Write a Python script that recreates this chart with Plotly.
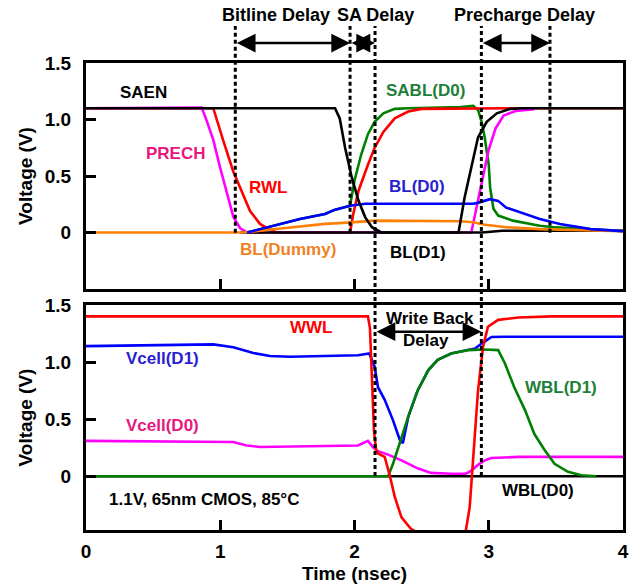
import plotly.graph_objects as go

# ---------------- data ----------------
# top panel: read cycle
saen_t = [0, 1.855, 1.89, 1.93, 1.98, 2.03, 2.08, 2.13, 2.2, 2.775, 2.82, 2.875, 2.92, 2.985, 3.06, 3.16, 3.25, 4.0]
saen_v = [1.1, 1.1, 1.01, 0.75, 0.485, 0.28, 0.134, 0.047, 0.0, 0.0, 0.31, 0.60, 0.84, 0.98, 1.055, 1.094, 1.1, 1.1]

prech_t = [0, 0.862, 0.899, 0.948, 0.998, 1.048, 1.097, 1.147, 1.2, 2.87, 2.905, 2.946, 2.997, 3.05, 3.11, 3.2, 3.34]
prech_v = [1.1, 1.105, 0.99, 0.82, 0.58, 0.345, 0.14, 0.04, 0.0, 0.0, 0.19, 0.44, 0.72, 0.92, 1.035, 1.075, 1.09]

rwl_t = [0, 0.948, 1.023, 1.097, 1.147, 1.222, 1.296, 1.346, 1.42, 1.967, 1.99, 2.03, 2.1, 2.15, 2.215, 2.3, 2.4, 2.5, 3.24, 4.0]
rwl_v = [1.1, 1.1, 0.81, 0.54, 0.40, 0.19, 0.076, 0.04, 0.0, 0.0, 0.16, 0.37, 0.60, 0.75, 0.89, 1.01, 1.07, 1.094, 1.1, 1.1]

bld1_t = [1.15, 2.95, 3.1, 4.0]
bld1_v = [0.0, 0.0, 0.015, 0.015]

bldum_t = [0, 1.17, 1.45, 1.78, 1.98, 2.15, 2.79, 2.885, 2.96, 3.13, 3.38, 3.53, 4.0]
bldum_v = [0, 0, 0.035, 0.076, 0.09, 0.105, 0.1, 0.09, 0.07, 0.047, 0.03, 0.026, 0.012]

bld0_t = [1.2, 1.346, 1.594, 1.78, 1.85, 1.967, 2.08, 2.88, 2.91, 3.01, 3.07, 3.13, 3.23, 3.38, 3.53, 3.76, 4.0]
bld0_v = [0.0, 0.047, 0.12, 0.164, 0.2, 0.237, 0.255, 0.255, 0.26, 0.295, 0.28, 0.22, 0.18, 0.12, 0.076, 0.03, 0.012]

sabl_t = [1.2, 1.346, 1.594, 1.78, 1.85, 1.967, 2.0, 2.05, 2.1, 2.15, 2.215, 2.3, 2.4, 2.79, 2.885, 2.92,
          2.947, 2.97, 3.0, 3.01, 3.035, 3.07, 3.18, 3.38, 3.5, 4.0]
sabl_v = [0.0, 0.047, 0.12, 0.164, 0.2, 0.237, 0.46, 0.69, 0.87, 0.98, 1.055, 1.094, 1.1, 1.11, 1.12, 1.085,
          0.98, 0.84, 0.60, 0.40, 0.21, 0.15, 0.105, 0.06, 0.045, 0.012]

# bottom panel: write-back
wwl_t = [0, 2.1, 2.115, 2.13, 2.145, 2.16, 2.175, 2.225, 2.26, 2.3, 2.35, 2.42, 2.48, 2.8, 2.83, 2.858, 2.883,
         2.92, 2.957, 2.994, 3.07, 3.22, 3.47, 4.0]
wwl_v = [1.40, 1.40, 1.30, 0.90, 0.40, 0.24, 0.20, 0.17, 0.02, -0.18, -0.36, -0.46, -0.5, -0.5, -0.47, -0.27, 0.17,
         0.75, 1.13, 1.31, 1.37, 1.39, 1.40, 1.40]

vc1_t = [0, 0.948, 1.097, 1.246, 1.37, 1.52, 2.026, 2.11, 2.15, 2.175, 2.225, 2.287, 2.337, 2.36, 2.4, 2.47,
         2.55, 2.62, 2.72, 2.845, 2.9, 2.945, 3.02, 3.12, 4.0]
vc1_v = [1.14, 1.155, 1.13, 1.08, 1.053, 1.047, 1.06, 1.075, 0.96, 0.78, 0.67, 0.49, 0.32, 0.29, 0.52, 0.75,
         0.93, 1.02, 1.075, 1.105, 1.12, 1.16, 1.22, 1.222, 1.222]

vc0_t = [0, 1.097, 1.197, 1.296, 2.026, 2.1, 2.137, 2.175, 2.25, 2.35, 2.47, 2.57, 2.72, 2.83, 2.87, 2.92, 2.97,
         3.02, 3.22, 4.0]
vc0_v = [0.31, 0.30, 0.27, 0.257, 0.27, 0.31, 0.257, 0.22, 0.19, 0.14, 0.07, 0.03, 0.023, 0.023, 0.05, 0.10, 0.14,
         0.16, 0.17, 0.17]

wbl1_t = [0, 2.25, 2.287, 2.337, 2.4, 2.47, 2.55, 2.62, 2.72, 2.845, 2.97, 3.07, 3.12, 3.19, 3.27, 3.34, 3.416,
          3.49, 3.59, 3.69, 3.8]
wbl1_v = [0, 0, 0.11, 0.30, 0.52, 0.75, 0.93, 1.02, 1.075, 1.105, 1.11, 1.105, 0.99, 0.78, 0.58, 0.37, 0.23,
          0.11, 0.04, 0.01, 0]

wbl0_t = [0, 4.0]
wbl0_v = [0, 0]

# delay markers (nsec)
delay_t = [1.112, 1.967, 2.153, 2.945, 3.456]

x_ticks = [0, 1, 2, 3, 4]
y_ticks = [0, 0.5, 1.0, 1.5]
y_ticktext = ["0", "0.5", "1.0", "1.5"]

# ---------------- styling ----------------
FONT = "Liberation Sans, Arial, Helvetica, sans-serif"
RED = "#ff0000"
BLUE = "#0000ff"
GREEN = "#008000"
MAG = "#ff00ff"
ORANGE = "#ff8000"
BLACK = "#000000"
LW = 2.6

fig = go.Figure()


def add(t, v, color, name, top=True):
    fig.add_trace(go.Scatter(
        x=t, y=v, mode="lines", name=name,
        line=dict(color=color, width=LW),
        xaxis="x" if top else "x2", yaxis="y" if top else "y2",
        showlegend=False, hoverinfo="skip"))


# top panel (draw order)
add(sabl_t, sabl_v, GREEN, "SABL(D0)")
add(rwl_t, rwl_v, RED, "RWL")
add(prech_t, prech_v, MAG, "PRECH")
add(bld1_t, bld1_v, BLACK, "BL(D1)")
add(bldum_t, bldum_v, ORANGE, "BL(Dummy)")
add(bld0_t, bld0_v, BLUE, "BL(D0)")
add(saen_t, saen_v, BLACK, "SAEN")

# bottom panel
add(wbl0_t, wbl0_v, BLACK, "WBL(D0)", top=False)
add(vc1_t, vc1_v, BLUE, "Vcell(D1)", top=False)
add(vc0_t, vc0_v, MAG, "Vcell(D0)", top=False)
add(wbl1_t, wbl1_v, GREEN, "WBL(D1)", top=False)
add(wwl_t, wwl_v, RED, "WWL", top=False)

axis_common = dict(showline=True, mirror=True, linewidth=3, linecolor="black",
                   ticks="inside", ticklen=10, tickwidth=3, tickcolor="black",
                   showgrid=False, zeroline=False,
                   tickfont=dict(family=FONT, size=19, color="black", weight="bold"))

H, W = 587, 638
MT, MB = 63, 57
PH = H - MT - MB


def py(pix):  # pixel row -> paper y
    return (H - MB - pix) / PH


fig.update_layout(
    width=W, height=H,
    margin=dict(l=86, r=15, t=MT, b=MB, autoexpand=False),
    paper_bgcolor="white", plot_bgcolor="white",
    font=dict(family=FONT, color="black", weight="bold"),
    xaxis=dict(axis_common, range=[0, 4], tickvals=x_ticks, showticklabels=False,
               anchor="y", domain=[0, 1]),
    yaxis=dict(axis_common, range=[-0.5, 1.5], tickvals=y_ticks, ticktext=y_ticktext,
               domain=[py(289), 1], anchor="x", ticklabelstandoff=8,
               title=dict(text="Voltage (V)", font=dict(family=FONT, size=19, weight="bold"), standoff=8)),
    xaxis2=dict(axis_common, range=[0, 4], tickvals=x_ticks, anchor="y2", domain=[0, 1],
                ticklabelstandoff=2,
                title=dict(text="Time (nsec)", font=dict(family=FONT, size=19, weight="bold"), standoff=6)),
    yaxis2=dict(axis_common, range=[-0.47, 1.5], tickvals=y_ticks, ticktext=y_ticktext,
                domain=[0, py(305)], anchor="x2", ticklabelstandoff=8,
                title=dict(text="Voltage (V)", font=dict(family=FONT, size=19, weight="bold"), standoff=8)),
)

# dashed delay markers
ends = [py(232.7), py(232.7), py(476), py(476), py(232.7)]
for t, yb in zip(delay_t, ends):
    fig.add_shape(type="line", xref="x", yref="paper", x0=t, x1=t, y0=yb, y1=py(26),
                  line=dict(color="black", width=3, dash="4px,3px"), layer="above")


def label(text, x, y, color, top=True, size=17):
    fig.add_annotation(text=text, x=x, y=y, xref="x" if top else "x2", yref="y" if top else "y2",
                       showarrow=False, xanchor="center", yanchor="middle",
                       font=dict(family=FONT, size=size, color=color, weight="bold"))


PINK = "#e8177d"
label("SAEN", 0.425, 1.235, BLACK)
label("PRECH", 0.67, 0.695, PINK)
label("RWL", 1.352, 0.40, RED)
label("BL(Dummy)", 1.505, -0.153, "#f08224")
label("SABL(D0)", 2.529, 1.26, "#1e8038")
label("BL(D0)", 2.466, 0.406, "#2a1fd0")
label("BL(D1)", 2.473, -0.175, BLACK)

label("WWL", 1.676, 1.30, RED, top=False)
label("Vcell(D1)", 0.57, 1.03, "#2a1fd0", top=False)
label("Vcell(D0)", 0.57, 0.447, PINK, top=False)
label("1.1V, 65nm CMOS, 85°C", 0.879, -0.20, BLACK, top=False)
label("Write Back", 2.562, 1.38, BLACK, top=False)
label("Delay", 2.53, 1.19, BLACK, top=False)
label("WBL(D1)", 3.535, 0.776, "#1e8038", top=False)
label("WBL(D0)", 3.367, -0.127, BLACK, top=False)

# headline labels above the plot
for txt, xc in [("Bitline Delay", 1.415), ("SA Delay", 2.16), ("Precharge Delay", 3.263)]:
    fig.add_annotation(text=txt, x=xc, y=py(15), xref="x", yref="paper", showarrow=False,
                       xanchor="center", yanchor="middle",
                       font=dict(family=FONT, size=18, color="black", weight="bold"))


def arrow(t0, t1, y, xref, yref):
    fig.add_annotation(text="", x=t1, y=y, ax=t0, ay=0, xref=xref, yref=yref, axref=xref, ayref="pixel",
                       showarrow=True, arrowhead=2, arrowside="end+start", arrowsize=1.5,
                       arrowwidth=2.5, arrowcolor="black", standoff=0, startstandoff=0)


arrow(delay_t[0], delay_t[1], py(43), "x", "paper")
arrow(delay_t[1], delay_t[2], py(43), "x", "paper")
arrow(delay_t[3], delay_t[4], py(43), "x", "paper")
arrow(delay_t[2], delay_t[3], 1.266, "x2", "y2")

# the page's default 8px body margin would shift the figure; remove it
fig.write_html("out.html", config={"displayModeBar": False},
               post_script="document.body.style.margin='0px';")
